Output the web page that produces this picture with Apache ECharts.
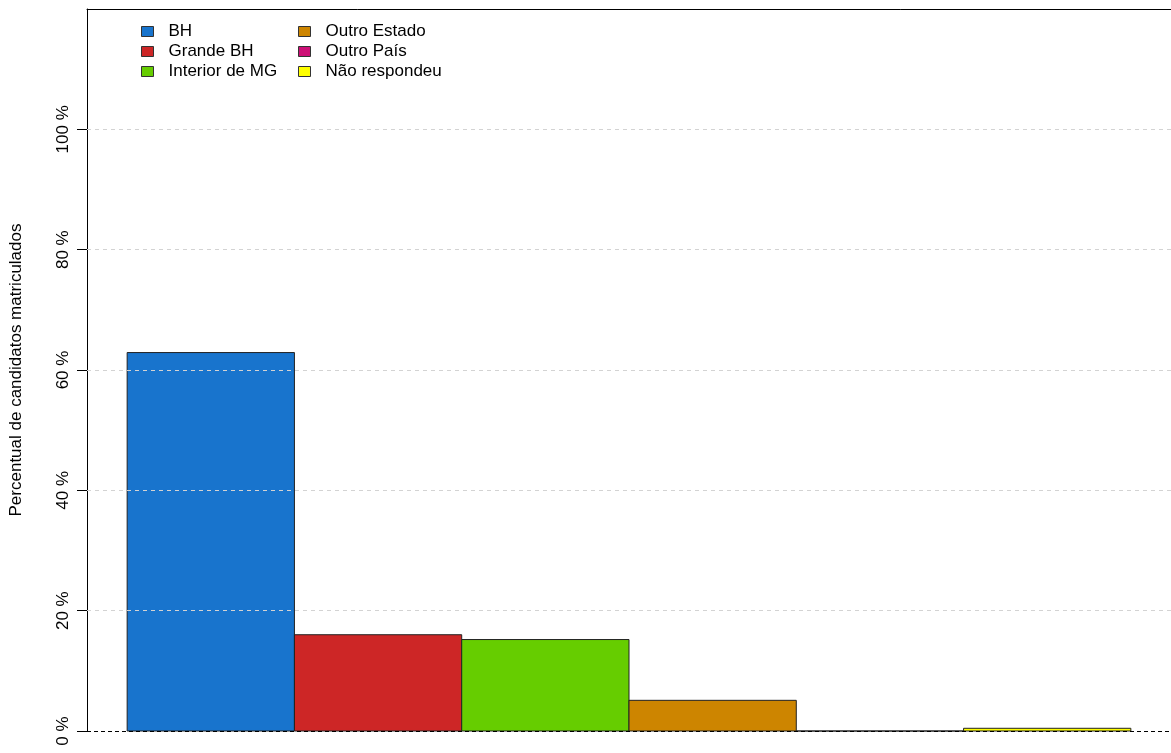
<!DOCTYPE html>
<html>
<head>
<meta charset="utf-8">
<script src="https://cdn.jsdelivr.net/npm/echarts@6/dist/echarts.min.js"></script>
<style>html,body{margin:0;padding:0;background:#fff}#c{width:1171px;height:753px}</style>
</head>
<body>
<div id="c"></div>
<script>
const categories = ['BH', 'Grande BH', 'Interior de MG', 'Outro Estado', 'Outro País', 'Não respondeu'];
const values = [62.9, 16.0, 15.2, 5.1, 0.0, 0.45];
const colors = ['#1874CD', '#CD2626', '#66CD00', '#CD8500', '#CD1076', '#FFFF00'];
const tickValues = [0, 20, 40, 60, 80, 100];
const tickLabels = ['0 %', '20 %', '40 %', '60 %', '80 %', '100 %'];
const yTitle = 'Percentual de candidatos matriculados';

const FONT = '"Liberation Sans", Arial, sans-serif';
const FS = 17;
const chart = echarts.init(document.getElementById('c'), null, {renderer: 'canvas'});

function renderBar(color) {
  return function (params, api) {
    const x = api.value(0), v = api.value(1);
    const p0 = api.coord([x, v]);
    const p1 = api.coord([x + 1, 0]);
    return {
      type: 'rect',
      shape: {x: p0[0], y: p0[1], width: p1[0] - p0[0], height: p1[1] - p0[1]},
      style: {fill: color, stroke: '#222', lineWidth: 1}
    };
  };
}

const series = categories.map((name, i) => ({
  type: 'custom',
  name: name,
  itemStyle: {color: colors[i], borderColor: '#333', borderWidth: 1},
  renderItem: renderBar(colors[i]),
  data: [[i, values[i]]],
  silent: true
}));

series[series.length - 1].markLine = {
  silent: true,
  symbol: 'none',
  label: {show: false},
  animation: false,
  data: tickValues.map(v => ({
    yAxis: v,
    lineStyle: v === 0
      ? {color: '#000', type: [4, 3], width: 1}
      : {color: '#d3d3d3', type: [4, 4], width: 1}
  }))
};

const legendCommon = {
  orient: 'vertical',
  top: 23,
  padding: 0,
  itemWidth: 12,
  itemHeight: 10,
  itemGap: 3,
  icon: 'rect',
  selectedMode: false,
  itemStyle: {borderColor: '#333', borderWidth: 1},
  textStyle: {fontFamily: FONT, fontSize: FS, lineHeight: 16, color: '#000', padding: [0, 0, 0, 10]}
};

chart.setOption({
  animation: false,
  backgroundColor: '#fff',
  grid: {left: 87, right: 0, top: 9, bottom: 22, show: false, containLabel: false, outerBoundsMode: 'none'},
  legend: [
    Object.assign({}, legendCommon, {left: 141, data: categories.slice(0, 3)}),
    Object.assign({}, legendCommon, {left: 298, data: categories.slice(3)})
  ],
  xAxis: {
    type: 'value',
    min: -0.24,
    max: 6.24,
    position: 'top',
    axisLine: {show: true, onZero: false, lineStyle: {color: '#000', width: 1}},
    axisTick: {show: false},
    axisLabel: {show: false},
    splitLine: {show: false}
  },
  yAxis: {
    type: 'value',
    min: 0,
    max: 120,
    interval: 20,
    name: yTitle,
    nameLocation: 'middle',
    nameRotate: 90,
    nameGap: 62,
    nameTextStyle: {fontFamily: FONT, fontSize: FS, color: '#000'},
    axisLine: {show: true, onZero: false, lineStyle: {color: '#000', width: 1}},
    axisTick: {show: true, length: 10, lineStyle: {color: '#000'}, customValues: tickValues},
    axisLabel: {
      rotate: 90,
      margin: 15,
      fontFamily: FONT,
      fontSize: FS,
      color: '#000',
      customValues: tickValues,
      formatter: function (v) {
        const idx = tickValues.indexOf(v);
        return idx >= 0 ? tickLabels[idx] : '';
      }
    },
    splitLine: {show: false}
  },
  series: series
});
</script>
</body>
</html>
